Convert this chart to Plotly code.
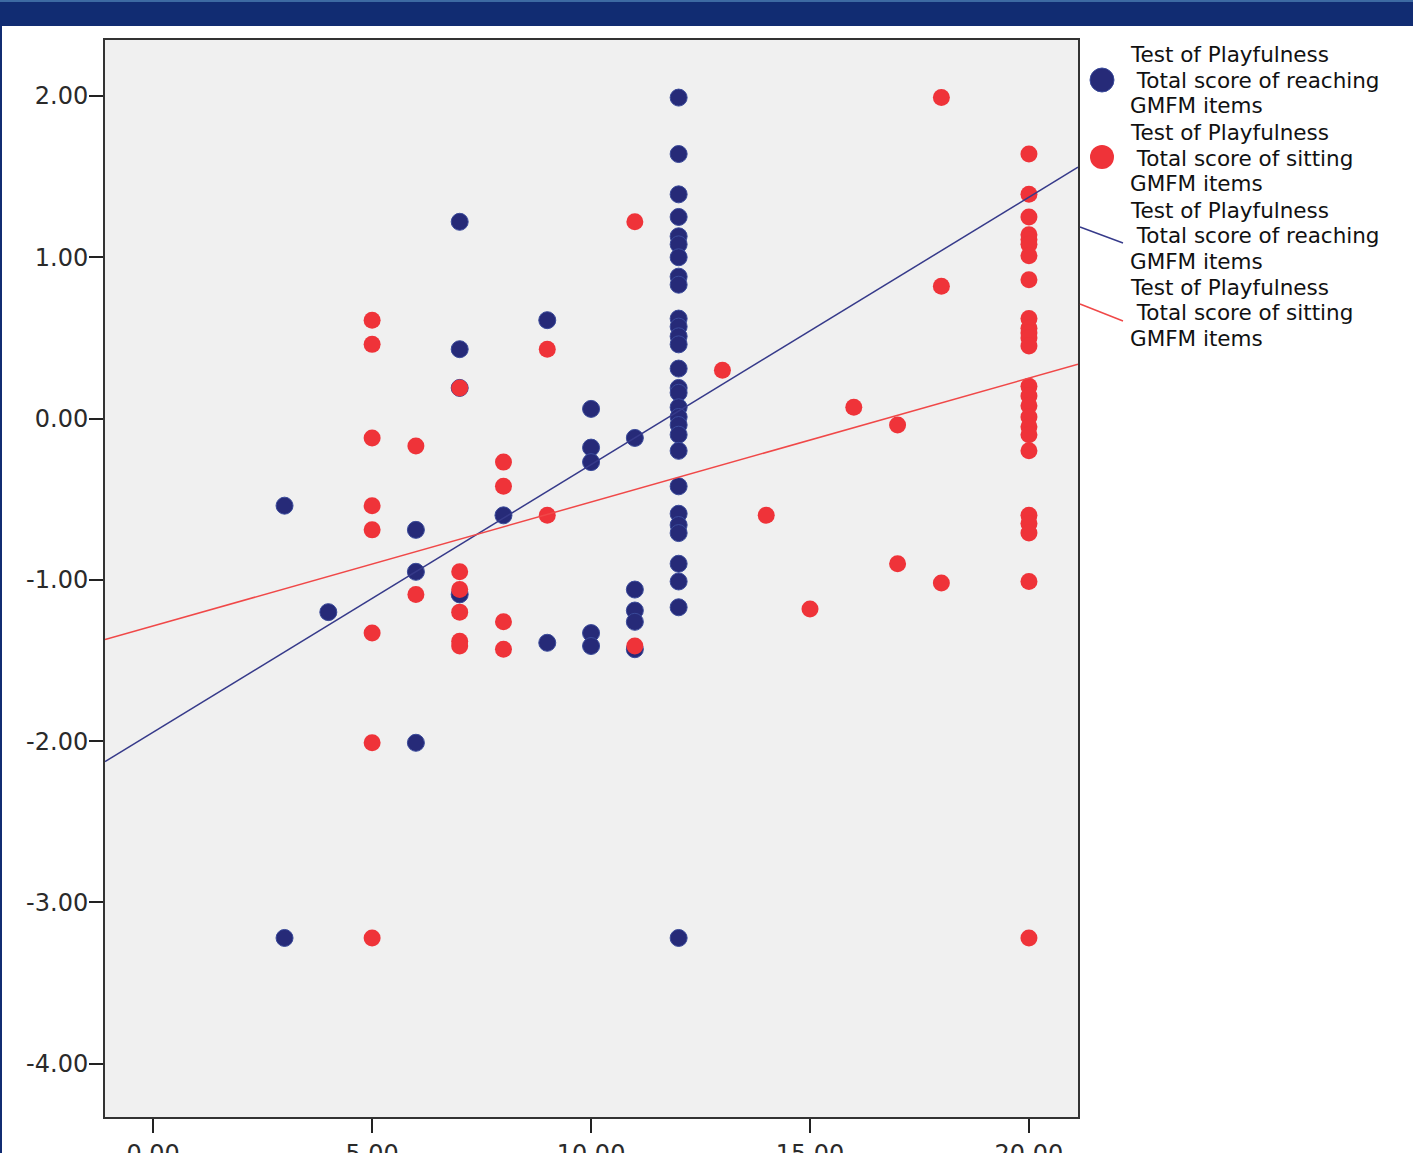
import numpy as np
import plotly.graph_objects as go

# ---- data ----
reach_x = [3, 3, 4, 6, 6, 6, 7, 7, 7, 7, 8, 9, 9, 10, 10, 10, 10, 10, 11, 11, 11, 11, 11,
           12, 12, 12, 12, 12, 12, 12, 12, 12, 12, 12, 12, 12, 12, 12, 12, 12, 12, 12, 12,
           12, 12, 12, 12, 12, 12, 12, 12, 12]
reach_y = [-0.54, -3.22, -1.20, -0.69, -0.95, -2.01, 1.22, 0.43, 0.19, -1.09, -0.60, 0.61, -1.39,
           0.06, -0.18, -0.27, -1.33, -1.41, -0.12, -1.06, -1.19, -1.26, -1.43,
           1.99, 1.64, 1.39, 1.25, 1.13, 1.08, 1.00, 0.88, 0.83, 0.62, 0.57, 0.51, 0.46, 0.31,
           0.19, 0.16, 0.07, 0.01, -0.04, -0.10, -0.20, -0.42, -0.59, -0.66, -0.71, -0.90,
           -1.01, -1.17, -3.22]

sit_x = [5, 5, 5, 5, 5, 5, 5, 5, 6, 6, 7, 7, 7, 7, 7, 7, 8, 8, 8, 8, 9, 9, 11, 11,
         13, 14, 15, 16, 17, 17, 18, 18, 18,
         20, 20, 20, 20, 20, 20, 20, 20, 20, 20, 20, 20, 20, 20, 20, 20, 20, 20, 20, 20,
         20, 20, 20, 20, 20]
sit_y = [0.61, 0.46, -0.12, -0.54, -0.69, -1.33, -2.01, -3.22, -0.17, -1.09,
         0.19, -0.95, -1.06, -1.20, -1.38, -1.41, -0.27, -0.42, -1.26, -1.43, 0.43, -0.60,
         1.22, -1.41, 0.30, -0.60, -1.18, 0.07, -0.04, -0.90, 1.99, 0.82, -1.02,
         1.64, 1.39, 1.25, 1.14, 1.11, 1.08, 1.01, 0.86, 0.62, 0.56, 0.53, 0.50, 0.45,
         0.20, 0.14, 0.08, 0.01, -0.05, -0.10, -0.20, -0.60, -0.65, -0.71, -1.01, -3.22]

y_tickvals = [2, 1, 0, -1, -2, -3, -4]
y_ticktext = ["2.00", "1.00", "0.00", "-1.00", "-2.00", "-3.00", "-4.00"]
x_tickvals = [0, 5, 10, 15, 20]
x_ticktext = ["0.00", "5.00", "10.00", "15.00", "20.00"]

legend_reach = ["Test of Playfulness", "\u00a0Total score of reaching", "GMFM items"]
legend_sit = ["Test of Playfulness", "\u00a0Total score of sitting", "GMFM items"]

BLUE = "#262a78"
RED = "#ef3339"
XR = [-1.1, 21.12]
YR = [-4.33, 2.347]

# linear fits
b_reach, a_reach = np.polyfit(reach_x, reach_y, 1)
b_sit, a_sit = np.polyfit(sit_x, sit_y, 1)
xs = np.array(XR)

name_reach = "<br>".join(legend_reach)
name_sit = "<br>".join(legend_sit)

fig = go.Figure()
fig.add_trace(go.Scatter(x=reach_x, y=reach_y, mode="markers", name=name_reach,
                         marker=dict(color=BLUE, size=17, line=dict(width=1, color="#3a4a9a"))))
fig.add_trace(go.Scatter(x=sit_x, y=sit_y, mode="markers", name=name_sit,
                         marker=dict(color=RED, size=17, line=dict(width=0))))
fig.add_trace(go.Scatter(x=xs, y=a_reach + b_reach * xs, mode="lines", name=name_reach,
                         line=dict(color="#363a8a", width=1.5)))
fig.add_trace(go.Scatter(x=xs, y=a_sit + b_sit * xs, mode="lines", name=name_sit,
                         line=dict(color="#f04848", width=1.5)))

W, H = 1413, 1153
L, R, T, B = 105, 1413 - 1078, 40, 1153 - 1117
pw, ph = W - L - R, H - T - B

def px(xp):
    return (xp - L) / pw

def py(yp):
    return (H - B - yp) / ph

shapes = [
    dict(type="rect", xref="paper", yref="paper", x0=px(0), x1=px(W), y0=py(26), y1=py(0),
         fillcolor="#112c72", line=dict(width=0), layer="above"),
    dict(type="rect", xref="paper", yref="paper", x0=px(0), x1=px(W), y0=py(2), y1=py(0),
         fillcolor="#3d6aa3", line=dict(width=0), layer="above"),
    dict(type="rect", xref="paper", yref="paper", x0=px(0), x1=px(2), y0=py(H), y1=py(26),
         fillcolor="#112c72", line=dict(width=0), layer="above"),
    # legend keys
    dict(type="circle", xref="paper", yref="paper", x0=px(1090), x1=px(1114),
         y0=py(92), y1=py(68), fillcolor=BLUE, line=dict(width=1, color="#3a4a9a")),
    dict(type="circle", xref="paper", yref="paper", x0=px(1090), x1=px(1114),
         y0=py(169), y1=py(145), fillcolor=RED, line=dict(width=0)),
    dict(type="line", xref="paper", yref="paper", x0=px(1080), x1=px(1123),
         y0=py(227), y1=py(243), line=dict(color="#363a8a", width=1.5)),
    dict(type="line", xref="paper", yref="paper", x0=px(1080), x1=px(1123),
         y0=py(304), y1=py(321), line=dict(color="#f04848", width=1.5)),
]

annotations = []
mid_centers = [80, 158, 236, 313]
gap = 25.5
for texts, c in zip([legend_reach, legend_sit, legend_reach, legend_sit], mid_centers):
    for t, yc in zip(texts, [c - gap, c, c + gap]):
        annotations.append(dict(text=t, xref="paper", yref="paper", x=px(1129), y=py(yc),
                                xanchor="left", yanchor="middle", showarrow=False,
                                font=dict(size=21.5, color="#111"), borderpad=0))

fig.update_layout(
    width=W, height=H,
    margin=dict(l=L, r=R, t=T, b=B, pad=0, autoexpand=False),
    paper_bgcolor="white", plot_bgcolor="#f0f0f0",
    font=dict(family="DejaVu Sans", color="#222"),
    showlegend=False,
    shapes=shapes,
    annotations=annotations,
    xaxis=dict(range=XR, tickvals=x_tickvals, ticktext=x_ticktext, showgrid=False,
               zeroline=False, showline=True, linecolor="#333", linewidth=2, mirror=True,
               ticks="outside", ticklen=14, tickwidth=2, tickcolor="#222", automargin=False,
               tickfont=dict(size=24, color="#2a2a2a")),
    yaxis=dict(range=YR, tickvals=y_tickvals, ticktext=y_ticktext, showgrid=False,
               zeroline=False, showline=True, linecolor="#333", linewidth=2, mirror=True,
               ticks="outside", ticklen=14, tickwidth=2, tickcolor="#222", automargin=False,
               ticklabelstandoff=-4,
               tickfont=dict(size=24, color="#2a2a2a")),
)

fig.write_html("out.html", config={"displayModeBar": False},
               post_script="document.body.style.margin='0';")
